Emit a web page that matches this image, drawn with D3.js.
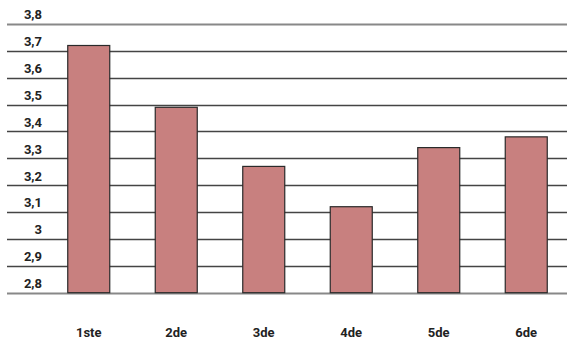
<!DOCTYPE html>
<html>
<head>
<meta charset="utf-8">
<script src="https://cdn.jsdelivr.net/npm/d3@7"></script>
<style>
  html, body { margin: 0; padding: 0; background: #fff; }
  svg { display: block; }
  text { font-family: Roboto, "Liberation Sans", sans-serif; font-weight: bold; fill: #222; }
</style>
</head>
<body>
<svg id="chart" width="567" height="345"></svg>
<script>
const categories = ["1ste", "2de", "3de", "4de", "5de", "6de"];
const values = [3.72, 3.49, 3.27, 3.12, 3.34, 3.38];
const tickValues = [3.8, 3.7, 3.6, 3.5, 3.4, 3.3, 3.2, 3.1, 3.0, 2.9, 2.8];
const tickLabels = ["3,8", "3,7", "3,6", "3,5", "3,4", "3,3", "3,2", "3,1", "3", "2,9", "2,8"];

const svg = d3.select("#chart");
const W = 567, H = 345;

const y = d3.scaleLinear().domain([2.8, 3.8]).range([292.7, 24]);
const x = d3.scaleBand().domain(categories).range([45, 570]).paddingInner(0.52).paddingOuter(0.26);

// gridlines
svg.append("g").selectAll("line")
  .data(tickValues)
  .join("line")
  .attr("x1", 7).attr("x2", W)
  .attr("y1", d => Math.round(y(d)) + 0.5)
  .attr("y2", d => Math.round(y(d)) + 0.5)
  .attr("stroke", (d, i) => (i === 0 || i === tickValues.length - 1) ? "#888" : "#444")
  .attr("stroke-width", (d, i) => (i === 0 || i === tickValues.length - 1) ? 2 : 1.3);

// y labels (sitting above their gridline)
svg.append("g").selectAll("text")
  .data(tickValues)
  .join("text")
  .attr("x", 42)
  .attr("y", d => y(d) - 4.7)
  .attr("text-anchor", "end")
  .attr("font-size", 13)
  .text((d, i) => tickLabels[i]);

// bars
svg.append("g").selectAll("rect")
  .data(values)
  .join("rect")
  .attr("x", (d, i) => x(categories[i]))
  .attr("width", x.bandwidth())
  .attr("y", d => y(d))
  .attr("height", d => y(2.8) - y(d))
  .attr("fill", "#c8807f")
  .attr("stroke", "#2a2a2a")
  .attr("stroke-width", 1.2);

// x labels
svg.append("g").selectAll("text")
  .data(categories)
  .join("text")
  .attr("x", d => x(d) + x.bandwidth() / 2)
  .attr("y", 336.5)
  .attr("text-anchor", "middle")
  .attr("font-size", 13)
  .text(d => d);
</script>
</body>
</html>
